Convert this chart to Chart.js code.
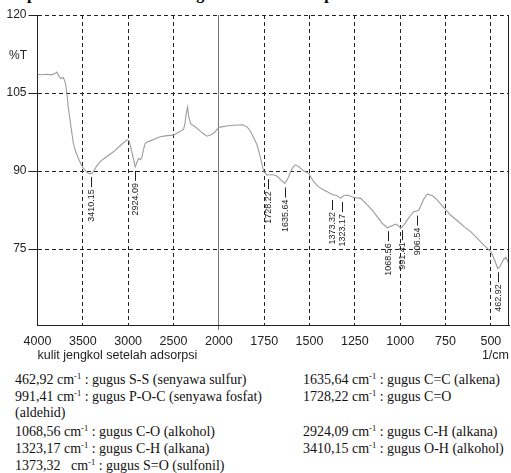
<!DOCTYPE html>
<html><head><meta charset="utf-8">
<script src="https://cdn.jsdelivr.net/npm/chart.js@4.4.0/dist/chart.umd.min.js"></script>
<style>
html,body{margin:0;padding:0;background:#fff;width:511px;height:473px;overflow:hidden;position:relative}
#wrap{position:absolute;left:0;top:0;width:511px;height:365px}
.t{position:absolute;font-family:"Liberation Serif","Times New Roman",serif;font-size:14px;color:#111;white-space:nowrap;line-height:16px}
.t sup{font-size:8.5px;vertical-align:5px;line-height:0}
#title{position:absolute;left:18px;top:-14px;font:bold 16px "Liberation Serif","Times New Roman",serif;line-height:16px;white-space:nowrap;color:#000}
</style></head>
<body>
<div id="title">Spektrum FTIR Kulit Jengkol Setelah Adsorpsi</div>
<div id="wrap"><canvas id="c" width="511" height="365"></canvas></div>
<div class="t" style="left:15px;top:372px">462,92 cm<sup>-1</sup> : gugus S-S (senyawa sulfur)</div>
<div class="t" style="left:15px;top:389px">991,41 cm<sup>-1</sup> : gugus P-O-C (senyawa fosfat)</div>
<div class="t" style="left:15px;top:405px">(aldehid)</div>
<div class="t" style="left:15px;top:424px">1068,56 cm<sup>-1</sup> : gugus C-O (alkohol)</div>
<div class="t" style="left:15px;top:441px">1323,17 cm<sup>-1</sup> : gugus C-H (alkana)</div>
<div class="t" style="left:15px;top:458px">1373,32 &nbsp; cm<sup>-1</sup> : gugus S=O (sulfonil)</div>
<div class="t" style="left:303px;top:372px">1635,64 cm<sup>-1</sup> : gugus C=C (alkena)</div>
<div class="t" style="left:303px;top:389px">1728,22 cm<sup>-1</sup> : gugus C=O</div>
<div class="t" style="left:303px;top:424px">2924,09 cm<sup>-1</sup> : gugus C-H (alkana)</div>
<div class="t" style="left:303px;top:441px">3410,15 cm<sup>-1</sup> : gugus O-H (alkohol)</div>
<script>
const wavenumbers = [4000,3950,3900,3850,3800,3788,3760,3745,3715,3690,3677,3660,3641,3620,3604,3580,3549,3520,3494,3460,3439,3414,3395,3383,3350,3309,3250,3162,3080,3014,2990,2978,2950,2923,2905,2886,2865,2849,2830,2812,2790,2757,2700,2646,2570,2499,2440,2389,2375,2360,2345,2330,2307,2270,2241,2180,2131,2080,2039,2000,1950,1899,1870,1844,1825,1808,1789,1771,1753,1734,1725,1700,1678,1655,1636,1620,1605,1590,1577,1560,1550,1530,1504,1476,1449,1420,1402,1380,1366,1350,1329,1310,1292,1270,1255,1218,1181,1150,1126,1100,1071,1045,1025,1010,997,980,961,940,924,906,897,870,850,820,795,760,721,680,648,610,573,540,500,480,463,450,441,430,417,405,400];
const transmittance = [108.6,108.5,108.6,108.5,108.8,109.0,108.2,107.8,108.0,106.8,105.0,102.3,99.8,97.2,95.3,93.8,92.4,91.3,90.5,89.9,89.55,89.5,89.6,89.9,90.9,91.8,92.6,93.7,95.0,96.0,95.8,95.0,93.0,90.8,91.6,92.4,92.2,92.6,94.2,95.3,95.6,95.8,96.2,96.6,96.8,96.9,97.5,98.0,99.0,101.0,102.3,100.2,99.0,98.6,98.2,97.3,96.7,97.0,97.6,98.4,98.7,98.85,98.9,98.5,97.6,96.4,95.0,92.6,90.0,89.2,89.3,89.3,89.0,88.2,87.6,88.5,89.9,90.8,91.2,90.9,90.5,90.0,89.5,87.9,86.9,86.3,86.0,85.6,85.4,85.3,84.8,85.3,85.4,85.1,84.9,84.75,83.5,82.3,81.2,80.0,79.1,79.5,79.8,79.5,79.0,79.6,80.6,81.6,82.2,82.3,82.5,84.6,85.6,85.2,84.4,83.0,81.5,80.3,79.3,78.3,77.0,75.8,74.5,73.0,71.3,71.6,72.25,73.0,73.4,72.5,72.0];
const xTickWavenumbers = [4000,3500,3000,2500,2000,1750,1500,1250,1000,750,500];
const yTickValues = [75,90,105,120];
const peakWavenumbers = [3410.15,2924.09,1728.22,1635.64,1373.32,1323.17,1068.56,991.41,906.54,462.92];
const peakTransmittance = [89.6,90.8,89.2,87.6,85.2,84.8,79.2,79.4,82.2,71.3];
const yAxisLabel = '%T';
const xAxisNote = 'kulit jengkol setelah adsorpsi';
const xAxisUnit = '1/cm';

// split wavenumber axis: 4000-2000 compressed, below 2000 expanded 2x
function toPos(wn){ return wn >= 2000 ? 4000 - wn : 2000 + 2*(2000 - wn); }
function toWn(p){ return p <= 2000 ? 4000 - p : 2000 - (p - 2000)/2; }

const SANS = '"Liberation Sans", Arial, Helvetica, sans-serif';
const is2000 = c => c.tick && c.tick.value === toPos(2000);

const framePlugin = {
  id:'frame',
  afterDraw(chart){
    const {ctx, chartArea:a} = chart;
    ctx.save();
    ctx.strokeStyle = '#222'; ctx.lineWidth = 1;
    ctx.beginPath();
    const rx = Math.round(a.right) - 0.5;
    ctx.moveTo(rx, a.top); ctx.lineTo(rx, a.bottom);
    ctx.stroke();
    ctx.fillStyle = '#222';
    ctx.font = '12px ' + SANS;
    ctx.textBaseline = 'middle';
    ctx.textAlign = 'left';
    ctx.fillText(yAxisLabel, 9, a.top + 41);
    ctx.font = '12.5px ' + SANS;
    ctx.fillText(xAxisNote, a.left, a.bottom + 31);
    ctx.textAlign = 'right';
    ctx.fillText(xAxisUnit, a.right, a.bottom + 31);
    ctx.restore();
  }
};

const peakPlugin = {
  id:'peaks',
  afterDatasetsDraw(chart){
    const {ctx, scales:{x, y}} = chart;
    ctx.save();
    ctx.font = '9px ' + SANS;
    ctx.fillStyle = '#222'; ctx.strokeStyle = '#222'; ctx.lineWidth = 1;
    peakWavenumbers.forEach((w, i) => {
      const px = Math.round(x.getPixelForValue(toPos(w))) + 0.5;
      const py = y.getPixelForValue(peakTransmittance[i]) + 4;
      ctx.beginPath(); ctx.moveTo(px, py); ctx.lineTo(px, py + 10); ctx.stroke();
      const label = w.toFixed(2);
      const tw = ctx.measureText(label).width;
      ctx.save();
      ctx.translate(px, py + 12 + tw);
      ctx.rotate(-Math.PI/2);
      ctx.textAlign = 'left'; ctx.textBaseline = 'middle';
      ctx.fillText(label, 0, 0);
      ctx.restore();
    });
    ctx.restore();
  }
};

new Chart(document.getElementById('c'), {
  type:'line',
  data:{datasets:[{
    data: wavenumbers.map((w, i) => ({x: toPos(w), y: transmittance[i]})),
    borderColor:'#9c9c9c', borderWidth:1.1, pointRadius:0, tension:0, fill:false
  }]},
  options:{
    responsive:false, animation:false,
    layout:{padding:{top:15, right:2, left:0, bottom:0}},
    plugins:{legend:{display:false}, tooltip:{enabled:false}, title:{display:false}},
    scales:{
      x:{
        type:'linear', min:0, max:toPos(400),
        afterBuildTicks: s => { s.ticks = xTickWavenumbers.map(w => ({value: toPos(w)})); },
        afterFit: s => { s.height = 40; },
        ticks:{autoSkip:false, maxRotation:0, minRotation:0, padding:4, color:'#222',
          font:{family:SANS, size:12.5},
          callback: v => String(Math.round(toWn(v)))},
        grid:{color: c => is2000(c) ? '#777' : '#222', lineWidth:1, drawTicks:true, tickLength:5,
          tickColor: c => is2000(c) ? '#777' : 'rgba(0,0,0,0)'},
        border:{display:true, color:'#222', width:1, dash: c => (c.tick && !is2000(c)) ? [4,3] : []}
      },
      y:{
        type:'linear', min:60.4, max:120,
        afterBuildTicks: s => { s.ticks = yTickValues.map(v => ({value: v})); },
        afterFit: s => { s.width = 37.5; },
        ticks:{padding:2, color:'#222', font:{family:SANS, size:12}},
        grid:{color:'#222', lineWidth:1, drawTicks:true, tickLength:9, tickColor:'#222', tickBorderDash:[]},
        border:{display:true, color:'#222', width:1, dash: c => c.tick ? [4,3] : []}
      }
    }
  },
  plugins:[framePlugin, peakPlugin]
});
</script>
</body></html>
